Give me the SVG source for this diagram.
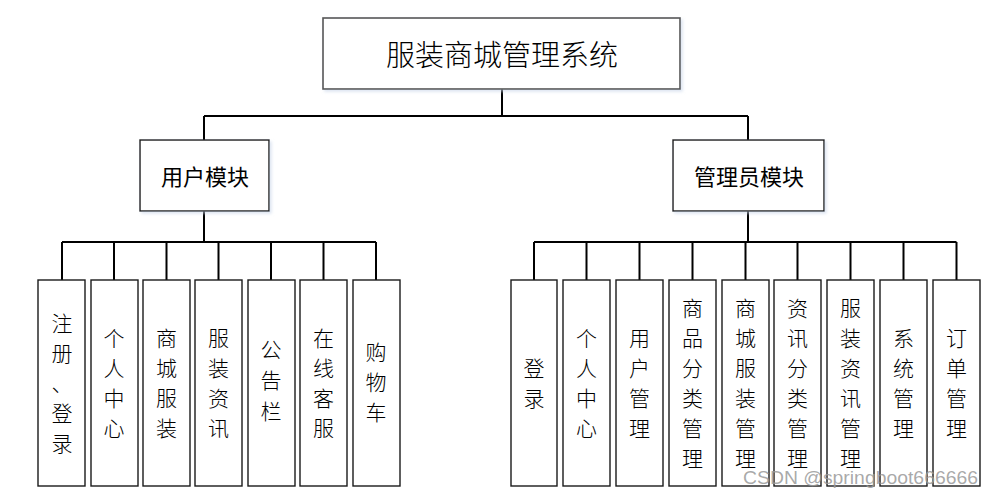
<svg xmlns="http://www.w3.org/2000/svg" width="994" height="497" viewBox="0 0 994 497">
<style>
.box{fill:#fff;stroke:#1a1a1a;stroke-width:1.4}
.top{fill:#fff;stroke:#555;stroke-width:1.6}
.conn{fill:none;stroke:#000;stroke-width:2}
.t{font-family:"Noto Sans CJK SC","Noto Sans",sans-serif;fill:#000;text-anchor:middle;dominant-baseline:central}
.title{font-size:29px;font-weight:300}
.mod{font-size:22px;font-weight:400}
.leaf{font-size:21px;font-weight:300}
.wm{font-family:"Liberation Sans",Arial,sans-serif;font-size:19px;fill:#9a9a9a;fill-opacity:0.85}
</style>
<defs>
<filter id="sh" x="-10%" y="-10%" width="130%" height="130%">
<feDropShadow dx="2" dy="2" stdDeviation="1.5" flood-color="#c8d4e8" flood-opacity="0.6"/>
</filter>
</defs>
<g id="connectors">
<path class="conn" d="M502,89 V116 M204,116 H748 M204,116 V140 M748,116 V140"/>
<path class="conn" d="M204,211 V242 M62,242 H376 M62,242 V280 M114,242 V280 M166.5,242 V280 M218.5,242 V280 M271,242 V280 M323.5,242 V280 M376,242 V280"/>
<path class="conn" d="M748,211 V242 M534,242 H956.5 M534,242 V280 M586.5,242 V280 M639.5,242 V280 M692.5,242 V280 M745.5,242 V280 M797.5,242 V280 M850.5,242 V280 M903.5,242 V280 M956.5,242 V280"/>
</g>
<g id="root"><rect class="top" x="323" y="18" width="357" height="71" filter="url(#sh)"/><text class="t title" x="502" y="53">服装商城管理系统</text></g>
<g id="user"><rect class="box" x="140" y="140" width="129" height="71" filter="url(#sh)"/><text class="t mod" x="205" y="175">用户模块</text></g>
<g id="admin"><rect class="box" x="673" y="140" width="151" height="71" filter="url(#sh)"/><text class="t mod" x="749" y="175">管理员模块</text></g>

<g id="u1"><rect class="box" x="38" y="280" width="47" height="206"/><text class="t leaf"><tspan x="62" y="322">注</tspan><tspan x="62" y="352">册</tspan><tspan x="62" y="382">、</tspan><tspan x="62" y="412">登</tspan><tspan x="62" y="442">录</tspan></text></g>
<g id="u2"><rect class="box" x="91" y="280" width="47" height="206"/><text class="t leaf"><tspan x="114" y="337">个</tspan><tspan x="114" y="367">人</tspan><tspan x="114" y="397">中</tspan><tspan x="114" y="427">心</tspan></text></g>
<g id="u3"><rect class="box" x="143" y="280" width="47" height="206"/><text class="t leaf"><tspan x="166.5" y="337">商</tspan><tspan x="166.5" y="367">城</tspan><tspan x="166.5" y="397">服</tspan><tspan x="166.5" y="427">装</tspan></text></g>
<g id="u4"><rect class="box" x="195" y="280" width="47" height="206"/><text class="t leaf"><tspan x="218.5" y="337">服</tspan><tspan x="218.5" y="367">装</tspan><tspan x="218.5" y="397">资</tspan><tspan x="218.5" y="427">讯</tspan></text></g>
<g id="u5"><rect class="box" x="248" y="280" width="47" height="206"/><text class="t leaf"><tspan x="271" y="348">公</tspan><tspan x="271" y="379">告</tspan><tspan x="271" y="410">栏</tspan></text></g>
<g id="u6"><rect class="box" x="300" y="280" width="47" height="206"/><text class="t leaf"><tspan x="323.5" y="337">在</tspan><tspan x="323.5" y="367">线</tspan><tspan x="323.5" y="397">客</tspan><tspan x="323.5" y="427">服</tspan></text></g>
<g id="u7"><rect class="box" x="353" y="280" width="47" height="206"/><text class="t leaf"><tspan x="376" y="351">购</tspan><tspan x="376" y="381">物</tspan><tspan x="376" y="411">车</tspan></text></g>

<g id="a1"><rect class="box" x="511" y="280" width="46" height="206"/><text class="t leaf"><tspan x="534" y="367">登</tspan><tspan x="534" y="397">录</tspan></text></g>
<g id="a2"><rect class="box" x="563" y="280" width="47" height="206"/><text class="t leaf"><tspan x="586.5" y="337">个</tspan><tspan x="586.5" y="367">人</tspan><tspan x="586.5" y="397">中</tspan><tspan x="586.5" y="427">心</tspan></text></g>
<g id="a3"><rect class="box" x="616" y="280" width="47" height="206"/><text class="t leaf"><tspan x="639.5" y="337">用</tspan><tspan x="639.5" y="367">户</tspan><tspan x="639.5" y="397">管</tspan><tspan x="639.5" y="427">理</tspan></text></g>
<g id="a4"><rect class="box" x="669" y="280" width="47" height="206"/><text class="t leaf"><tspan x="692.5" y="307">商</tspan><tspan x="692.5" y="337">品</tspan><tspan x="692.5" y="367">分</tspan><tspan x="692.5" y="397">类</tspan><tspan x="692.5" y="427">管</tspan><tspan x="692.5" y="457">理</tspan></text></g>
<g id="a5"><rect class="box" x="722" y="280" width="47" height="206"/><text class="t leaf"><tspan x="745.5" y="307">商</tspan><tspan x="745.5" y="337">城</tspan><tspan x="745.5" y="367">服</tspan><tspan x="745.5" y="397">装</tspan><tspan x="745.5" y="427">管</tspan><tspan x="745.5" y="457">理</tspan></text></g>
<g id="a6"><rect class="box" x="774" y="280" width="47" height="206"/><text class="t leaf"><tspan x="797.5" y="307">资</tspan><tspan x="797.5" y="337">讯</tspan><tspan x="797.5" y="367">分</tspan><tspan x="797.5" y="397">类</tspan><tspan x="797.5" y="427">管</tspan><tspan x="797.5" y="457">理</tspan></text></g>
<g id="a7"><rect class="box" x="827" y="280" width="47" height="206"/><text class="t leaf"><tspan x="850.5" y="307">服</tspan><tspan x="850.5" y="337">装</tspan><tspan x="850.5" y="367">资</tspan><tspan x="850.5" y="397">讯</tspan><tspan x="850.5" y="427">管</tspan><tspan x="850.5" y="457">理</tspan></text></g>
<g id="a8"><rect class="box" x="880" y="280" width="47" height="206"/><text class="t leaf"><tspan x="903.5" y="337">系</tspan><tspan x="903.5" y="367">统</tspan><tspan x="903.5" y="397">管</tspan><tspan x="903.5" y="427">理</tspan></text></g>
<g id="a9"><rect class="box" x="933" y="280" width="47" height="206"/><text class="t leaf"><tspan x="956.5" y="337">订</tspan><tspan x="956.5" y="367">单</tspan><tspan x="956.5" y="397">管</tspan><tspan x="956.5" y="427">理</tspan></text></g>

<text class="wm" x="743" y="484" textLength="235" lengthAdjust="spacingAndGlyphs">CSDN @springboot666666</text>
</svg>
